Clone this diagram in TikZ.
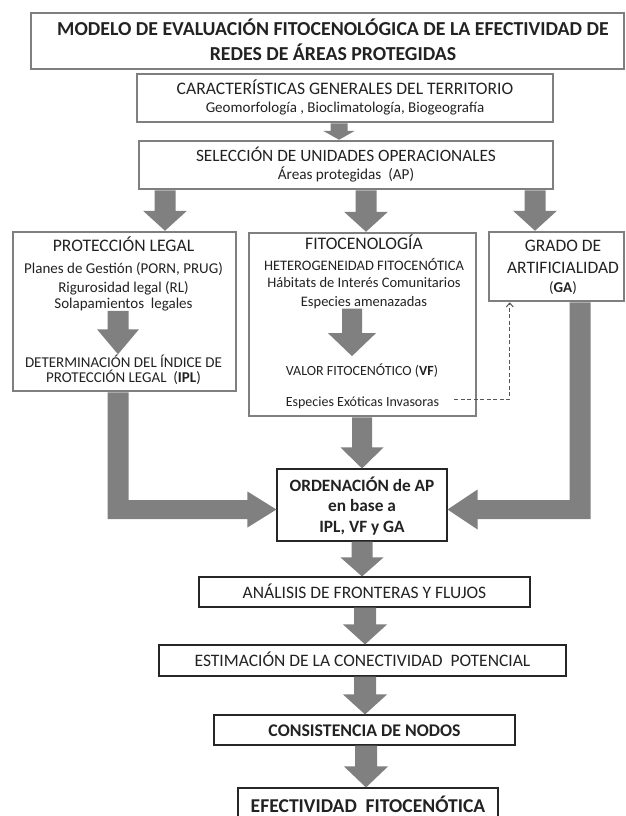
\documentclass[tikz,border=0pt]{standalone}
\usepackage{fontspec}
\setmainfont{Carlito}
\usetikzlibrary{calc,arrows.meta}
\definecolor{boxgray}{HTML}{7F7F7F}
\definecolor{arrgray}{HTML}{808080}
\definecolor{txt}{HTML}{222222}
\definecolor{dashgray}{HTML}{555555}
\newcommand{\blkdown}[5]{%
  \fill[arrgray] let \p1=(#1), \p2=(#2) in
   (\x2-#3,\y1) -- (\x2-#3,\y2+#5) -- (\x2-#4,\y2+#5) -- (\x2,\y2) --
   (\x2+#4,\y2+#5) -- (\x2+#3,\y2+#5) -- (\x2+#3,\y1) -- cycle;}
\newcommand{\fs}[1]{\fontsize{#1}{#1}\selectfont}
\begin{document}
\begin{tikzpicture}[x=1pt,y=-1pt,
  gbox/.style={draw=boxgray, line width=2.5pt, rectangle, inner sep=0pt},
  kbox/.style={draw=black!85, line width=1.1pt, rectangle, inner sep=0pt},
  lbl/.style={anchor=base, inner sep=0pt, text=txt},
  dashline/.style={draw=dashgray, line width=1pt, dash pattern=on 4pt off 2.5pt, -{Straight Barb[length=4pt,width=7pt]}}]
\useasboundingbox (0,0) rectangle (626,816);

% boxes
\node[gbox, minimum width=593pt, minimum height=56pt] (title) at (327.5,41) {};
\node[gbox, minimum width=416pt, minimum height=48pt] (char) at (345,98) {};
\node[gbox, minimum width=414pt, minimum height=48pt] (sel) at (346,165) {};
\node[gbox, minimum width=223pt, minimum height=159pt] (lbox) at (124.5,311.5) {};
\node[gbox, minimum width=227pt, minimum height=183pt] (mbox) at (362.5,324.5) {};
\node[gbox, minimum width=135pt, minimum height=69pt] (ga) at (556.5,266.5) {};
\node[kbox, minimum width=170pt, minimum height=72pt] (ord) at (362,505) {};
\node[kbox, minimum width=331pt, minimum height=30pt] (ana) at (364.5,592) {};
\node[kbox, minimum width=407pt, minimum height=31pt] (est) at (362.5,660.5) {};
\node[kbox, minimum width=301pt, minimum height=30pt] (con) at (364.5,730) {};
\node[kbox, minimum width=260pt, minimum height=48pt] (efe) at (368,812) {};

% texts
\node[lbl, font=\fs{19.8}\bfseries] (t1) at (333,36) {MODELO DE EVALUACIÓN FITOCENOLÓGICA DE LA EFECTIVIDAD DE};
\node[lbl, font=\fs{19.8}\bfseries] (t2) at (333,60) {REDES DE ÁREAS PROTEGIDAS};
\node[lbl, font=\fs{17.6}] (c1) at (345,94) {CARACTERÍSTICAS GENERALES DEL TERRITORIO};
\node[lbl, font=\fs{15}] (c2) at (345,112) {Geomorfología , Bioclimatología, Biogeografía};
\node[lbl, font=\fs{17.3}] (s1) at (346,161) {SELECCIÓN DE UNIDADES OPERACIONALES};
\node[lbl, font=\fs{15.2}] (s2) at (346,179) {Áreas protegidas\ \ (AP)};

\node[lbl, font=\fs{17.6}] (l1) at (123.5,251) {PROTECCIÓN LEGAL};
\node[lbl, font=\fs{15}] (l2) at (123.5,273) {Planes de Gestión (PORN, PRUG)};
\node[lbl, font=\fs{15}] (l3) at (123.5,292) {Rigurosidad legal (RL)};
\node[lbl, font=\fs{15}] (l4) at (123.5,308) {Solapamientos\ \ legales};
\node[lbl, font=\fs{15}] (l5) at (123.5,367) {DETERMINACIÓN DEL ÍNDICE DE};
\node[lbl, font=\fs{15}] (l6) at (123.5,382) {PROTECCIÓN LEGAL\ \ (\textbf{IPL})};

\node[lbl, font=\fs{17.6}] (m1) at (364,249) {FITOCENOLOGÍA};
\node[lbl, font=\fs{14.5}] (m2) at (364,270) {HETEROGENEIDAD FITOCENÓTICA};
\node[lbl, font=\fs{14.5}] (m3) at (364,287) {Hábitats de Interés Comunitarios};
\node[lbl, font=\fs{14.5}] (m4) at (364,306) {Especies amenazadas};
\node[lbl, font=\fs{14}] (m5) at (362,375) {VALOR FITOCENÓTICO (\textbf{VF})};
\node[lbl, font=\fs{14}] (inv) at (362.5,406) {Especies Exóticas Invasoras};

\node[lbl, font=\fs{17.5}] (g1) at (563,251) {GRADO DE};
\node[lbl, font=\fs{17.5}] (g2) at (563,273) {ARTIFICIALIDAD};
\node[lbl, font=\fs{15}] (g3) at (563,292) {(\textbf{GA})};

\node[lbl, font=\fs{17.3}\bfseries] (o1) at (362,491) {ORDENACIÓN de AP};
\node[lbl, font=\fs{17.3}\bfseries] (o2) at (362,511.5) {en base a};
\node[lbl, font=\fs{17.3}\bfseries] (o3) at (362,532.5) {IPL, VF y GA};

\node[lbl, font=\fs{17.5}] (a1) at (364.5,598) {ANÁLISIS DE FRONTERAS Y FLUJOS};
\node[lbl, font=\fs{17.5}] (e1) at (362.5,666.5) {ESTIMACIÓN DE LA CONECTIVIDAD\ \ POTENCIAL};
\node[lbl, font=\fs{17.8}\bfseries] (k1) at (364.5,736) {CONSISTENCIA DE NODOS};
\node[lbl, font=\fs{19.6}\bfseries] (f1) at (368,812) {EFECTIVIDAD\ \ FITOCENÓTICA};

% block arrows (vertical)
\blkdown{char.south}{$(sel.north)+(-7,0)$}{8.5pt}{16pt}{9pt}
\blkdown{sel.south}{$(lbox.north)+(40.5,0)$}{10.5pt}{22pt}{20pt}
\blkdown{sel.south}{$(mbox.north)+(3.5,0)$}{10.5pt}{22pt}{20pt}
\blkdown{sel.south}{$(ga.north)+(-21.5,0)$}{10.5pt}{22pt}{20pt}
\blkdown{l4.south}{$(l5.north)+(-5.5,0)$}{10.5pt}{21pt}{25pt}
\blkdown{m4.south}{$(m5.north)+(-10,-7)$}{10pt}{24pt}{23pt}
\blkdown{mbox.south}{ord.north}{10pt}{21.5pt}{21pt}
\blkdown{ord.south}{$(ana.north)+(-2.5,0)$}{10.5pt}{21.5pt}{19pt}
\blkdown{ana.south}{$(est.north)+(2.5,0)$}{11pt}{22pt}{20pt}
\blkdown{est.south}{$(con.north)+(0.5,0)$}{11pt}{22pt}{20pt}
\blkdown{con.south}{$(efe.north)+(-2,0)$}{11pt}{22pt}{21pt}

% L-shaped block arrows
\fill[arrgray] let \p1=($(lbox.south)+(-6.5,0)$), \p2=($(ord.west)+(0,4.5)$) in
 (\x1-10.5pt,\y1) -- (\x1-10.5pt,\y2-9.5pt) -- (\x2-29pt,\y2-9.5pt) -- (\x2-29pt,\y2-18pt) --
 (\x2,\y2) -- (\x2-29pt,\y2+18pt) -- (\x2-29pt,\y2+9.5pt) -- (\x1+10.5pt,\y2+9.5pt) --
 (\x1+10.5pt,\y1) -- cycle;
\fill[arrgray] let \p1=($(ga.south)+(23.5,0)$), \p2=($(ord.east)+(0,4.5)$) in
 (\x1+10.5pt,\y1) -- (\x1+10.5pt,\y2-9.5pt) -- (\x2+30pt,\y2-9.5pt) -- (\x2+30pt,\y2-20pt) --
 (\x2,\y2) -- (\x2+30pt,\y2+20pt) -- (\x2+30pt,\y2+9.5pt) -- (\x1-10.5pt,\y2+9.5pt) --
 (\x1-10.5pt,\y1) -- cycle;

% dashed connector
\coordinate (dstart) at ($(inv.east)+(15,-3)$);
\draw[dashline] (dstart) -| ($(ga.south west)+(22,0)$);
\end{tikzpicture}
\end{document}
